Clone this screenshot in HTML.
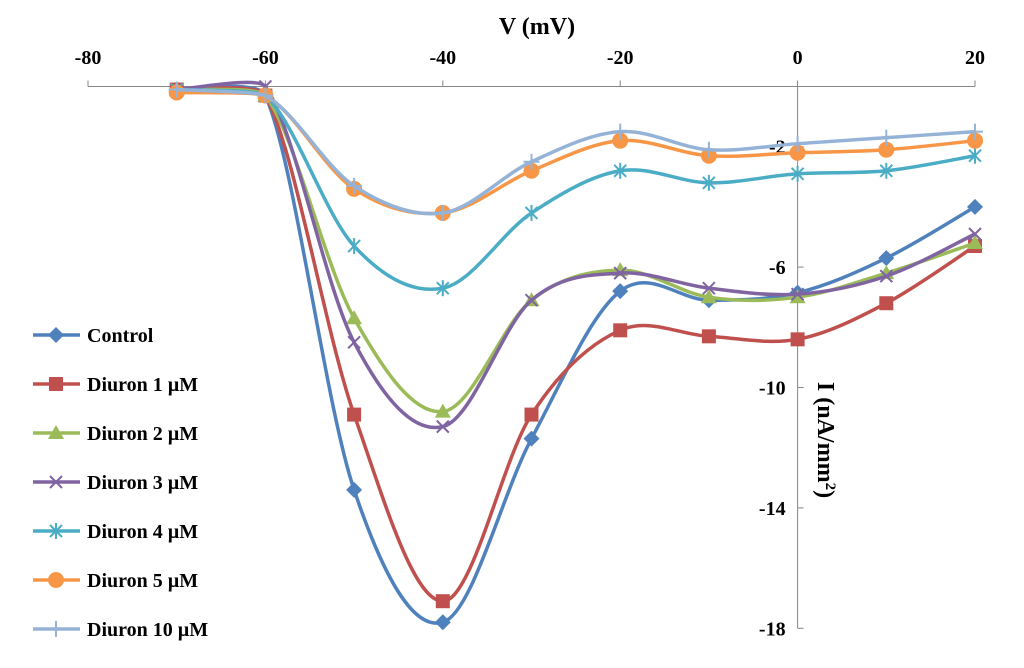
<!DOCTYPE html>
<html><head><meta charset="utf-8"><style>
body{margin:0;background:#fff;}
svg text{font-family:"Liberation Serif",serif;font-weight:bold;}
</style></head><body>
<svg id="chart" width="1024" height="663" xmlns="http://www.w3.org/2000/svg"></svg>
<script>
const voltages=[-70,-60,-50,-40,-30,-20,-10,0,10,20];
const seriesNames=["Control","Diuron 1 µM","Diuron 2 µM","Diuron 3 µM","Diuron 4 µM","Diuron 5 µM","Diuron 10 µM"];
const control=[-0.1,-0.3,-13.4,-17.8,-11.7,-6.8,-7.1,-6.85,-5.7,-4.0];
const diuron1=[-0.1,-0.3,-10.9,-17.1,-10.9,-8.1,-8.3,-8.4,-7.2,-5.3];
const diuron2=[-0.1,-0.3,-7.7,-10.8,-7.1,-6.1,-7.0,-7.0,-6.2,-5.2];
const diuron3=[-0.1,0.0,-8.5,-11.3,-7.1,-6.2,-6.7,-6.9,-6.3,-4.9];
const diuron4=[-0.1,-0.3,-5.3,-6.7,-4.2,-2.8,-3.2,-2.9,-2.8,-2.3];
const diuron5=[-0.2,-0.3,-3.4,-4.2,-2.8,-1.8,-2.3,-2.2,-2.1,-1.8];
const diuron10=[-0.1,-0.3,-3.3,-4.2,-2.5,-1.5,-2.1,-1.9,-1.7,-1.5];
const xTicks=[-80,-60,-40,-20,0,20];
const yTicks=[-2,-6,-10,-14,-18];
const colors=["#4f81bd","#c0504d","#9bbb59","#8064a2","#4bacc6","#f79646","#95b3d7"];
const markers=["diamond","square","triangle","x","star","circle","plus"];
const allSeries=[control,diuron1,diuron2,diuron3,diuron4,diuron5,diuron10];

const NS="http://www.w3.org/2000/svg";
const svg=document.getElementById('chart');
const X=v=>88+(v+80)*8.87;
const Y=v=>86.5-v*30.1;
function mk(t,a,p){const e=document.createElementNS(NS,t);for(const k in a)e.setAttribute(k,a[k]);(p||svg).appendChild(e);return e;}

const xa=mk('line',{x1:X(-80),x2:X(20),y1:Y(0),y2:Y(0),stroke:'#868686','stroke-width':1});


const ya=mk('line',{x1:X(0),x2:X(0),y1:Y(0),y2:Y(-18),stroke:'#868686','stroke-width':1});


xTicks.forEach(t=>{
  mk('line',{x1:X(t),x2:X(t),y1:Y(0),y2:Y(0)-6,stroke:'#868686'});
  const tx=mk('text',{x:X(t),y:64,'text-anchor':'middle','font-size':20});
  tx.textContent=t;
  
  
});
yTicks.forEach(t=>{
  mk('line',{x1:X(0),x2:X(0)+6,y1:Y(t),y2:Y(t),stroke:'#868686'});
  const tx=mk('text',{x:X(0)-12,y:Y(t)+7,'text-anchor':'end','font-size':20});
  tx.textContent=t;
  
  
});
const xt=mk('text',{x:537,y:34,'text-anchor':'middle','font-size':24});
xt.textContent='V (mV)';


const yt=mk('text',{x:0,y:0,'text-anchor':'middle','font-size':24,transform:'translate(818,440) rotate(90)'});
yt.innerHTML='I (nA/mm<tspan baseline-shift="super" font-size="15">2</tspan>)';



function marker(type,x,y,c,g){
  const s=8;
  if(type==='diamond')mk('polygon',{points:`${x},${y-s} ${x+s},${y} ${x},${y+s} ${x-s},${y}`,fill:c},g);
  else if(type==='square')mk('rect',{x:x-7,y:y-7,width:14,height:14,fill:c},g);
  else if(type==='triangle')mk('polygon',{points:`${x},${y-8} ${x+8},${y+6} ${x-8},${y+6}`,fill:c},g);
  else if(type==='circle')mk('circle',{cx:x,cy:y,r:8,fill:c},g);
  else{
    const p=[];
    if(type==='x'||type==='star')p.push([-6,-6,6,6],[-6,6,6,-6]);
    if(type==='plus'||type==='star')p.push([0,-8,0,8]);
    if(type==='plus')p.push([-8,0,8,0]);
    p.forEach(q=>mk('line',{x1:x+q[0],y1:y+q[1],x2:x+q[2],y2:y+q[3],stroke:c,'stroke-width':2},g));
  }
}
function smooth(pts){
  let d=`M${pts[0][0]},${pts[0][1]}`;
  for(let i=0;i<pts.length-1;i++){
    const p0=pts[Math.max(0,i-1)],p1=pts[i],p2=pts[i+1],p3=pts[Math.min(pts.length-1,i+2)];
    const k1=1/6, k2=(i===0)?1/24:1/6;
    const c1=[p1[0]+(p2[0]-p0[0])*k1,p1[1]+(p2[1]-p0[1])*k1];
    const c2=[p2[0]-(p3[0]-p1[0])*k2,p2[1]-(p3[1]-p1[1])*k2];
    d+=` C${c1[0]},${c1[1]} ${c2[0]},${c2[1]} ${p2[0]},${p2[1]}`;
  }
  return d;
}
allSeries.forEach((vals,i)=>{
  const g=mk('g',{});
  
  
  const pts=voltages.map((v,j)=>[X(v),Y(vals[j])]);
  mk('path',{d:smooth(pts),fill:'none',stroke:colors[i],'stroke-width':3.5},g);
  pts.forEach(p=>marker(markers[i],p[0],p[1],colors[i],g));
  const lg=mk('g',{});
  
  
  const ly=335+i*49;
  mk('line',{x1:33,x2:80,y1:ly,y2:ly,stroke:colors[i],'stroke-width':3.5},lg);
  marker(markers[i],56,ly,colors[i],lg);
  const t=mk('text',{x:87,y:ly+7,'font-size':20},lg);
  t.textContent=seriesNames[i];
});
</script>
</body></html>
